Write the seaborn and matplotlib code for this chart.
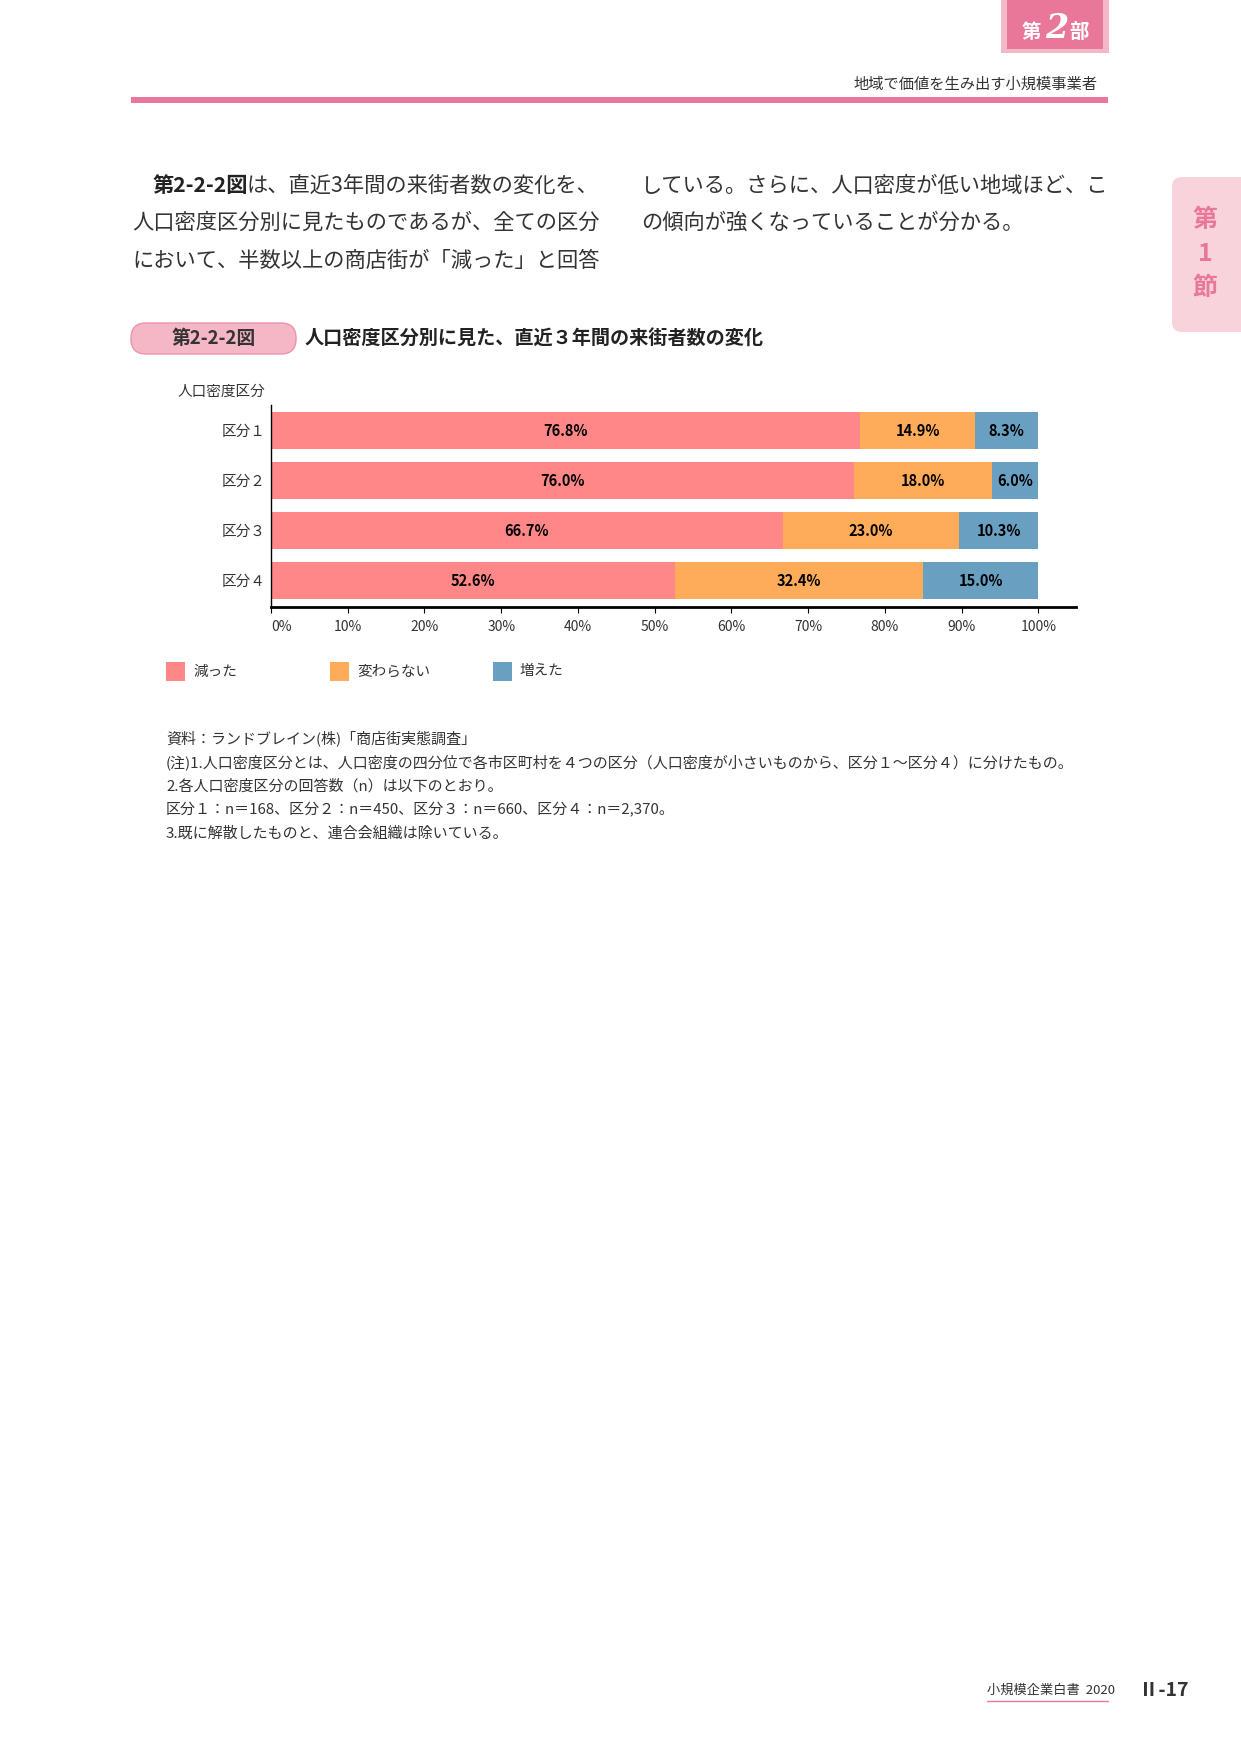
import numpy as np
import pandas as pd
import matplotlib
matplotlib.use('Agg')
import matplotlib.pyplot as plt
import seaborn as sns
from matplotlib.patches import Rectangle, FancyBboxPatch

# ---------------- data ----------------
categories = ['区分１', '区分２', '区分３', '区分４']
decreased = [76.8, 76.0, 66.7, 52.6]
unchanged = [14.9, 18.0, 23.0, 32.4]
increased = [8.3, 6.0, 10.3, 15.0]
series_names = ['減った', '変わらない', '増えた']
xticks = [0, 10, 20, 30, 40, 50, 60, 70, 80, 90, 100]
xtick_labels = ['0%', '10%', '20%', '30%', '40%', '50%', '60%', '70%', '80%', '90%', '100%']
axis_title = '人口密度区分'
fig_number = '第2-2-2図'
fig_title = '人口密度区分別に見た、直近３年間の来街者数の変化'
notes = [
    '資料：ランドブレイン(株)「商店街実態調査」',
    '(注)1.人口密度区分とは、人口密度の四分位で各市区町村を４つの区分（人口密度が小さいものから、区分１～区分４）に分けたもの。',
    '2.各人口密度区分の回答数（n）は以下のとおり。',
    '区分１：n＝168、区分２：n＝450、区分３：n＝660、区分４：n＝2,370。',
    '3.既に解散したものと、連合会組織は除いている。',
]
body_left_bold = '第2-2-2図'
body_left = ['は、直近3年間の来街者数の変化を、',
             '人口密度区分別に見たものであるが、全ての区分',
             'において、半数以上の商店街が「減った」と回答']
body_right = ['している。さらに、人口密度が低い地域ほど、こ',
              'の傾向が強くなっていることが分かる。']

RED = '#FF8787'
ORANGE = '#FFAC5A'
BLUE = '#69A0C2'
PINK = '#E9779A'
PINK_LIGHT = '#F5B8C8'
TXT = '#333333'

sns.set_theme(style='white')
plt.rcParams['font.family'] = ['Noto Sans CJK JP', 'DejaVu Sans']

W, H = 1241, 1754
fig = plt.figure(figsize=(W / 100, H / 100), dpi=100)
fig.patch.set_facecolor('white')

# overlay in pixel coordinates
ov = fig.add_axes([0, 0, 1, 1])
ov.set_xlim(0, W)
ov.set_ylim(H, 0)
ov.axis('off')

# ---------------- chart ----------------
ax = fig.add_axes([271 / W, 1 - 606.5 / H, (1076 - 271) / W, (606.5 - 405) / H])
df = pd.DataFrame({'cat': categories, 'dec': decreased, 'unc': unchanged, 'inc': increased})
df['c2'] = df['dec'] + df['unc']
df['c3'] = df['c2'] + df['inc']

sns.barplot(data=df, y='cat', x='c3', color=BLUE, saturation=1, width=0.74, ax=ax, orient='h')
sns.barplot(data=df, y='cat', x='c2', color=ORANGE, saturation=1, width=0.74, ax=ax, orient='h')
sns.barplot(data=df, y='cat', x='dec', color=RED, saturation=1, width=0.74, ax=ax, orient='h')
for p in ax.patches:
    p.set_linewidth(0)

for i, r in df.iterrows():
    for left, val in [(0, r['dec']), (r['dec'], r['unc']), (r['c2'], r['inc'])]:
        ax.text(left + val / 2, i, f'{val:.1f}%', ha='center', va='center',
                fontsize=10.5, fontweight='bold', color='black')

ax.set_xlim(0, 104.9)
ax.set_ylim(3.52, -0.51)
ax.set_xticks(xticks)
ax.set_xticklabels(xtick_labels)
ax.set_xlabel('')
ax.set_ylabel('')
for s in ['top', 'right']:
    ax.spines[s].set_visible(False)
ax.spines['left'].set_linewidth(1.0)
ax.spines['left'].set_color('black')
ax.spines['bottom'].set_linewidth(2.0)
ax.spines['bottom'].set_color('black')
ax.tick_params(axis='x', bottom=True, direction='out', length=4, width=0.8, color='black',
               pad=6, labelsize=10, labelcolor=TXT)
ax.tick_params(axis='y', left=False, length=0, pad=4, labelsize=10.5, labelcolor=TXT)
ax.get_xticklabels()[0].set_ha('left')
ax.set_facecolor('none')

ov.text(265, 392, axis_title, ha='right', va='center', fontsize=10.5, color=TXT)

# legend
leg_x = [166, 330, 493]
for x, name, c in zip(leg_x, series_names, [RED, ORANGE, BLUE]):
    ov.add_patch(Rectangle((x, 662), 19, 19, color=c, lw=0))
    ov.text(x + 27, 671.5, name, ha='left', va='center', fontsize=10.5, color=TXT)

# notes
for k, line in enumerate(notes):
    ov.text(166, 739 + k * 23.7, line, ha='left', va='center', fontsize=10.8, color=TXT)

# ---------------- header ----------------
ov.add_patch(Rectangle((1001, 0), 108, 52.7, color=PINK_LIGHT, lw=0))
ov.add_patch(Rectangle((1007, 0), 96, 48.5, color=PINK, lw=0))
ov.text(1031, 33, '第', ha='center', va='center', fontsize=14, fontweight='bold', color='white')
ov.text(1057, 29, '2', ha='center', va='center', fontsize=24, fontweight='bold',
        style='italic', family=['DejaVu Serif'], color='white')
ov.text(1079, 33, '部', ha='center', va='center', fontsize=14, fontweight='bold', color='white')
ov.text(1097, 84, '地域で価値を生み出す小規模事業者', ha='right', va='center', fontsize=11, color=TXT)
ov.add_patch(Rectangle((131, 96.7), 977, 6, color=PINK, lw=0))

# side tab
ov.add_patch(FancyBboxPatch((1172, 177), 90, 155, boxstyle='round,pad=0,rounding_size=10',
                            color='#F8D3DC', lw=0))
for yy, ch in zip([220, 254, 288], ['第', '1', '節']):
    ov.text(1205, yy, ch, ha='center', va='center', fontsize=18, fontweight='bold', color=PINK)

# ---------------- body text ----------------
fs_body = 15.3
renderer = fig.canvas.get_renderer()
tb = ov.text(153, 186, body_left_bold, ha='left', va='center', fontsize=fs_body,
             fontweight='bold', color='#222222')
bb = tb.get_window_extent(renderer=renderer)
ov.text(bb.x1 - 2, 186, body_left[0], ha='left', va='center', fontsize=fs_body, color=TXT)
ov.text(132, 223, body_left[1], ha='left', va='center', fontsize=fs_body, color=TXT)
ov.text(132, 261, body_left[2], ha='left', va='center', fontsize=fs_body, color=TXT)
ov.text(641, 186, body_right[0], ha='left', va='center', fontsize=fs_body, color=TXT)
ov.text(641, 223, body_right[1], ha='left', va='center', fontsize=fs_body, color=TXT)

# ---------------- figure title ----------------
ov.add_patch(FancyBboxPatch((131, 323), 165, 31, boxstyle='round,pad=0,rounding_size=15',
                            facecolor='#F5B7C5', edgecolor='#EC94AC', lw=1))
ov.text(214, 338.5, fig_number, ha='center', va='center', fontsize=13.5, fontweight='bold', color=TXT)
ov.text(305, 338.5, fig_title, ha='left', va='center', fontsize=13.8, fontweight='bold', color='#222222')

# ---------------- footer ----------------
ov.text(987, 1690, '小規模企業白書  2020', ha='left', va='center', fontsize=9.5, color=TXT)
ov.plot([987, 1108], [1701, 1701], color=PINK, lw=1)
ov.text(1139, 1690, 'Ⅱ-17', ha='left', va='center', fontsize=14, fontweight='bold', color=TXT)

fig.savefig('out.png', dpi=100, facecolor='white')
